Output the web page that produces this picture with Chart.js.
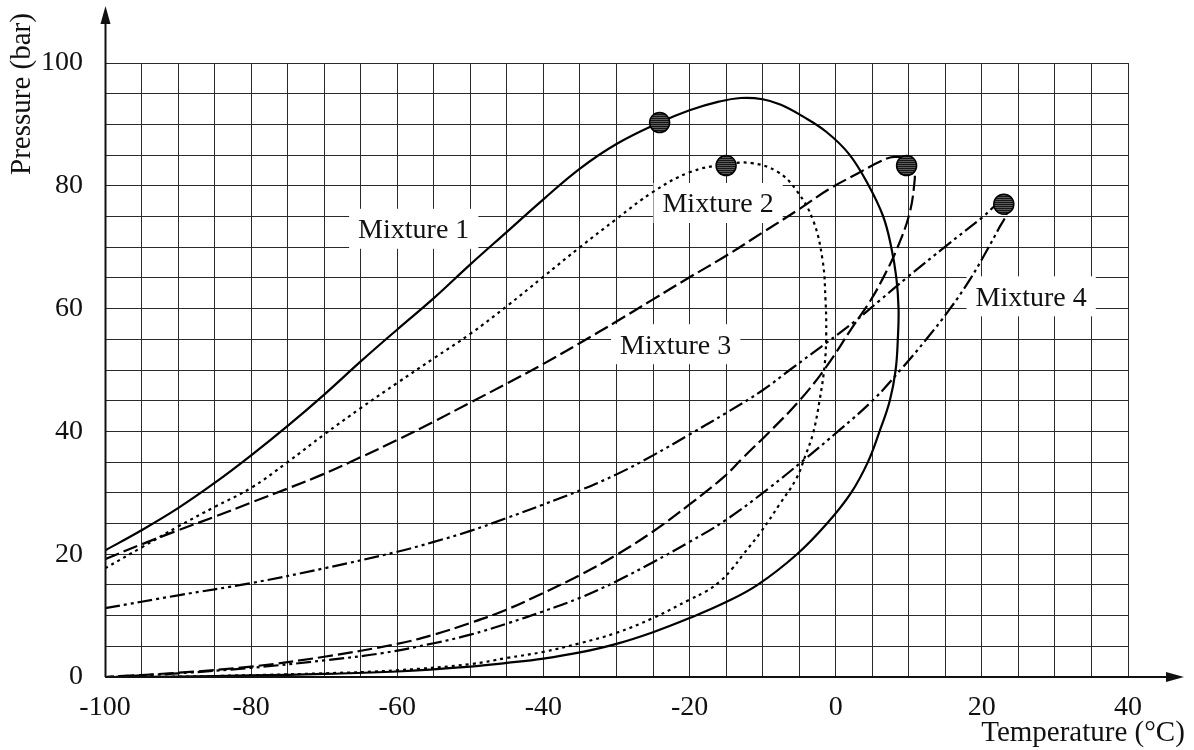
<!DOCTYPE html>
<html>
<head>
<meta charset="utf-8">
<script src="https://cdn.jsdelivr.net/npm/chart.js@4/dist/chart.umd.min.js"></script>
<style>
html, body { margin: 0; padding: 0; background: #fff; }
canvas { display: block; }
</style>
</head>
<body>
<canvas id="chart" width="1194" height="750"></canvas>
<script>
const mixtureNames = ["Mixture 1", "Mixture 2", "Mixture 3", "Mixture 4"];

const mix1Temp = [-100, -95, -90, -85, -80, -75, -70, -65, -60, -55, -50, -45, -40, -35, -30, -24.1, -20, -16, -13, -10, -7.5, -4.5, -1.3, 1.8, 4.4, 6.5, 7.6, 8.3, 8.6, 8.5, 8.2, 7.4, 6, 4.4, 2.1, -1.2, -5.3, -10.7, -15, -20, -25, -30, -35, -40, -45, -50, -60, -70, -80, -90, -100];
const mix1Pres = [20.6, 23.9, 27.5, 31.6, 36.1, 40.9, 46, 51.4, 56.6, 61.7, 67.2, 72.5, 77.8, 82.8, 86.8, 90.3, 92.3, 93.7, 94.3, 94.1, 93.2, 91.3, 88.8, 85.2, 80.3, 75, 70, 65, 60, 55, 50, 45, 40, 35, 30, 25, 20, 15, 12.2, 9.6, 7.3, 5.4, 4, 3, 2.3, 1.7, 0.9, 0.5, 0.25, 0.08, 0];

const mix2Temp = [-100, -95, -90, -85, -80, -75, -70, -65, -60, -55, -50, -45, -40, -35, -30, -25, -20, -15, -11.5, -8, -5.4, -3.1, -1.8, -1.4, -1.3, -1.5, -2.2, -3.1, -4.2, -5.4, -7.7, -10.2, -12.7, -14.2, -15.8, -17.8, -20, -25, -30, -35, -40, -45, -50, -60, -70, -80, -90, -100];
const mix2Pres = [17.7, 21.1, 24.5, 27.7, 30.8, 35, 39.5, 43.8, 47.9, 51.9, 55.9, 60.4, 65.2, 70, 74.6, 79, 82.2, 83.5, 83.7, 82.3, 79.3, 74.4, 67.9, 61.5, 56, 51, 45.1, 39.7, 35.9, 32.3, 28.1, 23.7, 19.9, 17.6, 15.6, 13.9, 12.6, 9.6, 7.2, 5.5, 4.1, 3.1, 2.1, 1.1, 0.6, 0.3, 0.05, 0];

const mix3Temp = [-100, -95, -90, -85, -80, -75, -70, -65, -60, -55, -50, -45, -40, -35, -30, -25, -20, -15, -10, -5, -1, 3, 6, 8, 9.8, 10.7, 10.8, 10.1, 8.3, 6.4, 4.7, 2.3, -1.3, -4.9, -9, -12.7, -15.3, -20, -25, -30, -35, -40, -45, -50, -55, -60, -70, -80, -90, -100];
const mix3Pres = [19.2, 21.6, 23.9, 26.1, 28.4, 30.7, 33.1, 35.8, 38.6, 41.6, 44.7, 47.8, 51, 54.4, 57.9, 61.5, 65.1, 68.6, 72.4, 76.2, 79.4, 82, 83.9, 84.7, 84.2, 82.3, 80.9, 75.5, 69.5, 64.8, 61.2, 57, 50.5, 45.1, 40, 35.7, 32.6, 28.1, 23.7, 19.9, 16.6, 13.7, 11, 8.8, 6.9, 5.4, 3.3, 1.7, 0.7, 0];

const mix4Temp = [-100, -90, -80, -70, -60, -55, -50, -45, -40, -35, -30, -25, -20, -15, -10, -6.3, -1.3, 2.8, 6, 9.7, 15.2, 20.1, 22.5, 23.3, 23.4, 22.3, 20.7, 18.4, 15.6, 12.4, 9, 5.2, 0.5, -4.3, -9.3, -15, -20, -25, -30, -35, -40, -45, -50, -55, -62, -70, -80, -90, -100];
const mix4Pres = [11.2, 13.3, 15.3, 17.7, 20.4, 22, 23.8, 25.9, 28.1, 30.4, 33, 36.1, 39.5, 43, 46.7, 50, 54.4, 58.1, 61.3, 65, 70.3, 74.9, 77.3, 76.8, 75.5, 73, 69.5, 64.8, 59.9, 55, 50.2, 45.2, 40.2, 35.4, 30.6, 25.6, 22, 18.7, 15.6, 12.9, 10.7, 8.7, 6.9, 5.5, 3.9, 2.7, 1.5, 0.6, 0];

// critical points (the round markers)
const critTemp = [-24.1, -15, 9.7, 23];
const critPres = [90.3, 83.3, 83.3, 77];

const xTickLabels = [-100, -80, -60, -40, -20, 0, 20, 40];
const yTickLabels = [0, 20, 40, 60, 80, 100];

// where the curve names sit, in axis units
const labelSpots = [
    {x: -57.75, y: 73.0},
    {x: -16.1, y: 77.2},
    {x: -21.9, y: 54.2},
    {x: 26.75, y: 62.0}
];

const fontName = "'Liberation Serif', 'Times New Roman', serif";

function toPoints(temps, pres){
    return temps.map(function(t, i){
        return {x: t, y: pres[i]};
    });
}

function makeHatch(){
    const c = document.createElement("canvas");
    c.width = 4;
    c.height = 2;
    const g = c.getContext("2d");
    g.fillStyle = "#5a5a5a";
    g.fillRect(0, 0, 4, 2);
    g.fillStyle = "#151515";
    g.fillRect(0, 0, 4, 1);
    return g.createPattern(c, "repeat");
}

const curveStyle = {
    showLine: true,
    borderColor: "#000",
    borderWidth: 2.2,
    pointRadius: 0,
    tension: 0.4,
    fill: false
};

const datasets = [
    {
        label: "critical",
        data: toPoints(critTemp, critPres),
        showLine: false,
        pointRadius: 10,
        pointBackgroundColor: makeHatch(),
        pointBorderColor: "#000",
        pointBorderWidth: 1.5
    },
    Object.assign({label: mixtureNames[0], data: toPoints(mix1Temp, mix1Pres)}, curveStyle),
    Object.assign({label: mixtureNames[1], data: toPoints(mix2Temp, mix2Pres), borderDash: [3, 4]}, curveStyle),
    Object.assign({label: mixtureNames[2], data: toPoints(mix3Temp, mix3Pres), borderDash: [15, 5]}, curveStyle),
    Object.assign({label: mixtureNames[3], data: toPoints(mix4Temp, mix4Pres), borderDash: [15, 4, 3, 4, 3, 4]}, curveStyle)
];

const labelBoxes = {
    id: "labelBoxes",
    beforeDatasetsDraw: function(chart){
        const ctx = chart.ctx;
        const xs = chart.scales.x;
        const ys = chart.scales.y;
        ctx.save();
        ctx.font = "28px " + fontName;
        ctx.textAlign = "center";
        ctx.textBaseline = "alphabetic";
        labelSpots.forEach(function(spot, i){
            const px = xs.getPixelForValue(spot.x);
            const py = ys.getPixelForValue(spot.y);
            const w = ctx.measureText(mixtureNames[i]).width + 18;
            ctx.fillStyle = "#fff";
            ctx.fillRect(px - w / 2, py - 20, w, 40);
            ctx.fillStyle = "#111";
            ctx.fillText(mixtureNames[i], px, py + 9.5);
        });
        ctx.restore();
    }
};

const axisArrows = {
    id: "axisArrows",
    afterDraw: function(chart){
        const ctx = chart.ctx;
        const a = chart.chartArea;
        const x0 = a.left + 0.5;
        const y0 = a.bottom;
        ctx.save();
        ctx.strokeStyle = "#111";
        ctx.fillStyle = "#111";
        ctx.lineWidth = 2;
        ctx.beginPath();
        ctx.moveTo(x0, y0);
        ctx.lineTo(x0, 22);
        ctx.moveTo(x0, y0);
        ctx.lineTo(1168, y0);
        ctx.stroke();

        ctx.beginPath();
        ctx.moveTo(x0, 6);
        ctx.lineTo(x0 - 5, 24);
        ctx.lineTo(x0 + 5, 24);
        ctx.closePath();
        ctx.fill();

        ctx.beginPath();
        ctx.moveTo(1184, y0);
        ctx.lineTo(1166, y0 - 5);
        ctx.lineTo(1166, y0 + 5);
        ctx.closePath();
        ctx.fill();

        ctx.font = "29px " + fontName;
        ctx.textAlign = "center";
        ctx.textBaseline = "alphabetic";
        ctx.fillText("Temperature (°C)", 1083, 741);

        ctx.translate(30, 94);
        ctx.rotate(-Math.PI / 2);
        ctx.fillText("Pressure (bar)", 0, 0);
        ctx.restore();
    }
};

new Chart(document.getElementById("chart"), {
    type: "scatter",
    data: {datasets: datasets},
    options: {
        responsive: false,
        animation: false,
        layout: {padding: {top: 63, right: 66, left: 0, bottom: 0}},
        plugins: {
            legend: {display: false},
            tooltip: {enabled: false}
        },
        scales: {
            x: {
                type: "linear",
                min: -100,
                max: 40,
                afterFit: function(scale){ scale.height = 73; },
                border: {display: false},
                grid: {color: "#2a2a2a", lineWidth: 1, drawTicks: false},
                ticks: {
                    stepSize: 5,
                    autoSkip: false,
                    maxRotation: 0,
                    padding: 14,
                    color: "#111",
                    font: {family: fontName, size: 28},
                    callback: function(value){
                        return xTickLabels.indexOf(Math.round(value)) >= 0 ? String(Math.round(value)) : "";
                    }
                }
            },
            y: {
                type: "linear",
                min: 0,
                max: 100,
                afterFit: function(scale){ scale.width = 105; },
                border: {display: false},
                grid: {color: "#2a2a2a", lineWidth: 1, drawTicks: false},
                ticks: {
                    stepSize: 5,
                    autoSkip: false,
                    padding: 22,
                    color: "#111",
                    font: {family: fontName, size: 28},
                    callback: function(value){
                        return yTickLabels.indexOf(Math.round(value)) >= 0 ? String(Math.round(value)) : "";
                    }
                }
            }
        }
    },
    plugins: [labelBoxes, axisArrows]
});
</script>
</body>
</html>
